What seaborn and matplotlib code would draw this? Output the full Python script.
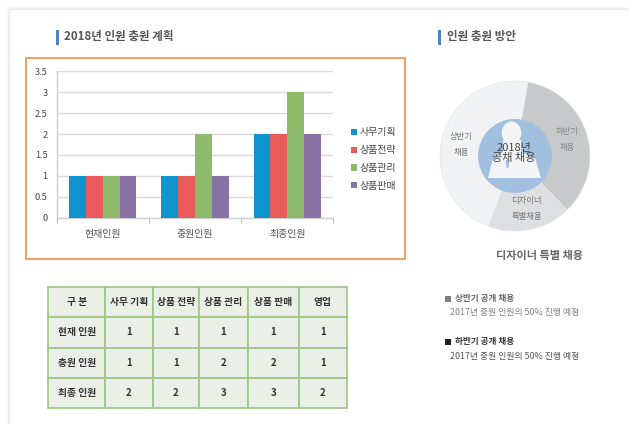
import matplotlib
matplotlib.use("Agg")
import matplotlib.pyplot as plt
from matplotlib.patches import Rectangle, Ellipse, Polygon, Circle
import pandas as pd
import seaborn as sns

stages = ["현재인원", "충원인원", "최종인원"]
teams = ["사무기획", "상품전략", "상품관리", "상품판매"]
office = [1, 1, 2]
strategy = [1, 1, 2]
manage = [1, 2, 3]
sales = [1, 1, 2]
team_colors = ["#0E93CC", "#E95A5A", "#8DBB6B", "#8B72A6"]
y_ticks = [0, 0.5, 1, 1.5, 2, 2.5, 3, 3.5]
y_labels = ["0", "0.5", "1", "1.5", "2", "2.5", "3", "3.5"]

donut_labels = ["하반기\n채용", "디자이너\n특별채용", "상반기\n채용"]
donut_values = [35, 18, 47]
donut_colors = ["#C8C9CB", "#DEDFE1", "#F1F2F4"]

table_cols = ["구 분", "사무 기획", "상품 전략", "상품 관리", "상품 판매", "영업"]
table_rows = [
    ["현재 인원", "1", "1", "1", "1", "1"],
    ["충원 인원", "1", "1", "2", "2", "1"],
    ["최종 인원", "2", "2", "3", "3", "2"],
]

W, H = 629, 424
sns.set_theme(style="white")
plt.rcParams["font.family"] = ["Noto Sans CJK KR", "DejaVu Sans"]
fig = plt.figure(figsize=(W / 100, H / 100), dpi=100, facecolor="white")


def axes_px(x0, y0, x1, y1, **kw):
    return fig.add_axes([x0 / W, 1 - y1 / H, (x1 - x0) / W, (y1 - y0) / H], **kw)


# page layer in pixel coordinates
bg = axes_px(0, 0, W, H)
bg.set_xlim(0, W)
bg.set_ylim(H, 0)
bg.axis("off")
for i, col in enumerate(["#FBFBFB", "#F7F7F7", "#F1F1F1", "#E9E9E9"]):
    bg.add_patch(Rectangle((6 + i, 6 + i), W, H, fc=col, ec="none"))
bg.add_patch(Rectangle((10, 10), W, H, fc="white", ec="none"))
bg.add_patch(Rectangle((56, 30), 3, 15, fc="#4A86C8", ec="none"))
bg.add_patch(Rectangle((438, 30), 3, 15, fc="#4A86C8", ec="none"))
bg.text(64, 36.5, "2018년 인원 충원 계획", fontsize=8.3, fontweight="bold", color="#555555", va="center")
bg.text(447, 36.5, "인원 충원 방안", fontsize=8.3, fontweight="bold", color="#555555", va="center")
bg.add_patch(Rectangle((25.5, 57.5), 379, 201, fc="white", ec="#F0A060", lw=1.4))
bg.text(539, 255, "디자이너 특별 채용", fontsize=8, fontweight="bold", color="#666666", ha="center", va="center")

bg.add_patch(Rectangle((445, 296), 5.5, 5.5, fc="#808080", ec="none"))
bg.text(455, 298.5, "상반기 공개 채용", fontsize=6.2, fontweight="bold", color="#666666", va="center")
bg.text(450, 312.5, "2017년 충원 인원의 50% 진행 예정", fontsize=6.35, color="#808080", va="center")
bg.add_patch(Rectangle((445, 339), 5.5, 5.5, fc="#222222", ec="none"))
bg.text(455, 341.5, "하반기 공개 채용", fontsize=6.2, fontweight="bold", color="#333333", va="center")
bg.text(450, 356, "2017년 충원 인원의 50% 진행 예정", fontsize=6.35, color="#555555", va="center")

# bar chart
df = pd.DataFrame({"구분": stages, teams[0]: office, teams[1]: strategy, teams[2]: manage, teams[3]: sales})
long = df.melt(id_vars="구분", var_name="팀", value_name="인원")
ax = axes_px(56.7, 71.3, 333.3, 217.7)
ax.patch.set_alpha(0)
sns.barplot(data=long, x="구분", y="인원", hue="팀", hue_order=teams, palette=team_colors,
            order=stages, width=0.727, gap=0, saturation=1, ax=ax, zorder=3, errorbar=None, linewidth=0)
ax.set_xlim(-0.5, 2.5)
ax.set_ylim(0, 3.5)
ax.set_yticks(y_ticks, y_labels)
ax.set_xlabel("")
ax.set_ylabel("")
ax.grid(axis="y", color="#DADADA", lw=1, zorder=0)
ax.set_axisbelow(True)
for s in ("top", "right"):
    ax.spines[s].set_visible(False)
for s in ("left", "bottom"):
    ax.spines[s].set_color("#CFCFCF")
    ax.spines[s].set_linewidth(1)
ax.set_xticks([-0.5, 0.5, 1.5, 2.5], minor=True)
ax.tick_params(axis="x", which="minor", length=3.5, width=0.8, color="#BBBBBB", bottom=True)
ax.tick_params(axis="x", which="major", length=0, labelsize=7.2, labelcolor="#555555", pad=8)
ax.tick_params(axis="y", length=0, labelsize=6.6, labelcolor="#444444", pad=6.5)
handles, labels = ax.get_legend_handles_labels()
ax.legend(handles, labels, loc="center left", bbox_to_anchor=(1.064, 0.4), frameon=False, fontsize=7.2,
          labelcolor="#444444", handlelength=0.6, handleheight=0.6, handletextpad=0.3, labelspacing=0.78,
          borderpad=0, borderaxespad=0)

# donut
pie_ax = axes_px(515 - 75, 156 - 75, 515 + 75, 156 + 75)
wedges, _ = pie_ax.pie(donut_values, colors=donut_colors, startangle=80, counterclock=False, radius=1,
                       wedgeprops=dict(edgecolor="#E4E4E6", linewidth=0.4))
pie_ax.set_xlim(-1, 1)
pie_ax.set_ylim(-1, 1)

ov = axes_px(0, 0, W, H)
ov.set_xlim(0, W)
ov.set_ylim(H, 0)
ov.axis("off")
ov.patch.set_alpha(0)
ov.add_patch(Circle((515, 156), 37, fc="#A3BFE0", ec="none"))
ov.add_patch(Ellipse((511.5, 133), 19.5, 23, fc="#F4F5F7", ec="none"))
ov.add_patch(Polygon([(488, 178), (492.5, 160), (503, 152), (503, 140), (521, 140), (521, 152),
                      (535, 158), (541, 178)], closed=True, fc="#F4F5F7", ec="none"))
ov.add_patch(Polygon([(505.5, 160), (509.5, 160), (508.5, 168), (506.5, 168)], closed=True, fc="#A3BFE0", ec="none"))
ov.text(513.5, 153, "2018년\n공채 채용", fontsize=8, fontweight="medium", color="#444444", ha="center", va="center",
        linespacing=1.1)
ov.text(461.5, 144, donut_labels[2], fontsize=6, color="#777777", ha="center", va="center", linespacing=2)
ov.text(567.5, 139.5, donut_labels[0], fontsize=6, color="#888888", ha="center", va="center", linespacing=2)
ov.text(526.5, 209, donut_labels[1], fontsize=6, color="#777777", ha="center", va="center", linespacing=2)

# table
tb_ax = axes_px(48.3, 286.7, 347.3, 408.3)
tb_ax.axis("off")
tb_ax.patch.set_alpha(0)
edges = [48.3, 105, 152.7, 199.3, 247.7, 298.7, 347.3]
widths = [(b - a) / (347.3 - 48.3) for a, b in zip(edges, edges[1:])]
tbl = tb_ax.table(cellText=table_rows, colLabels=table_cols, colWidths=widths, bbox=[0, 0, 1, 1], cellLoc="center")
tbl.auto_set_font_size(False)
for (r, c), cell in tbl.get_celld().items():
    cell.set_facecolor("#EAEFE8")
    cell.set_edgecolor("#9CC584")
    cell.set_linewidth(1.2)
    cell.get_text().set_fontsize(7)
    cell.get_text().set_color("#333333")
    cell.get_text().set_fontweight("bold")

fig.savefig("out.png", dpi=100)
